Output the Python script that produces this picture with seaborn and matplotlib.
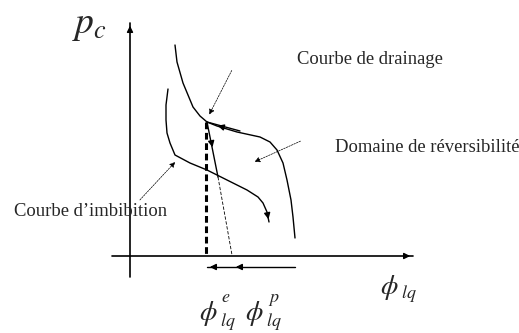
import numpy as np
import pandas as pd
import matplotlib
matplotlib.use("Agg")
import matplotlib.pyplot as plt
import seaborn as sns

# schematic coordinates (pixel space of the picture, y downwards)
drain_x = [175, 177, 183, 193, 200, 207, 217, 237, 260, 270, 277, 283, 287, 291, 293, 295]
drain_y = [45, 62, 83, 107, 116, 122, 126, 132, 137, 142, 150, 163, 180, 200, 217, 238]

imb_x = [168, 166, 166, 167, 170, 175, 190, 207, 225, 247, 258, 263, 267, 269]
imb_y = [89, 105, 120, 133, 143, 155, 163, 170, 179, 190, 197, 203, 212, 222]

rev_x = [207, 218]          # solid unloading line
rev_y = [122, 177]
rev_dash_x = [218, 232]     # its thin dashed extension
rev_dash_y = [177, 255]

elastic_x = [206, 206]      # thick dashed vertical
elastic_y = [122, 255]

load_x = [207, 240]         # straight segment over drainage curve
load_y = [122, 131]

bottom_x = [295, 207]
bottom_y = [267, 267]

yaxis_x = [130, 130]
yaxis_y = [277, 23]
xaxis_x = [112, 413]
xaxis_y = [256, 256]

# dotted label pointers: (start x, start y, end x, end y)
pointers = {
    "drainage": (233, 68, 208, 117),
    "reversibilite": (303, 140, 252, 163),
    "imbibition": (138, 202, 177, 160),
}

labels = {
    "Courbe de drainage": (297, 60),
    "Domaine de réversibilité": (335, 148),
    "Courbe d’imbibition": (14, 212),
}

# phi symbols: (x, y) of phi, superscript, subscript
phi_pos = [(380, 288), (199, 314), (245, 314)]
sup_txt = ["", "e", "p"]
sup_pos = [None, (221, 298), (268, 300)]
sub_pos = [(401, 294), (220, 321), (266, 321)]

sns.set_theme(style="white")
plt.rcParams["font.family"] = ["Liberation Serif", "DejaVu Serif"]
plt.rcParams["mathtext.fontset"] = "stix"

fig = plt.figure(figsize=(5.19, 3.33), dpi=100)
ax = fig.add_axes([0, 0, 1, 1])

def curve(x, y, **kw):
    d = pd.DataFrame({"x": x, "y": y})
    sns.lineplot(data=d, x="x", y="y", sort=False, estimator=None, ax=ax, **kw)

curve(drain_x, drain_y, color="black", lw=1.0)
curve(imb_x, imb_y, color="black", lw=1.0)
curve(rev_x, rev_y, color="black", lw=1.0)
curve(rev_dash_x, rev_dash_y, color="black", lw=0.6, dashes=(4, 2))
curve(elastic_x, elastic_y, color="black", lw=2.2, dashes=(2.2, 1.2))
curve(load_x, load_y, color="black", lw=1.0)
curve(bottom_x, bottom_y, color="black", lw=1.0)
curve(yaxis_x, yaxis_y, color="black", lw=1.2)
curve(xaxis_x, xaxis_y, color="black", lw=1.2)

head = dict(arrowstyle="-|>", color="black", lw=1.0, mutation_scale=9)

# axis arrowheads
ax.annotate("", xy=(yaxis_x[1], yaxis_y[1]), xytext=(yaxis_x[1], yaxis_y[1] + 12), arrowprops=head)
ax.annotate("", xy=(xaxis_x[1], xaxis_y[1]), xytext=(xaxis_x[1] - 12, xaxis_y[1]), arrowprops=head)
# end of imbibition
ax.annotate("", xy=(imb_x[-1], imb_y[-1]), xytext=(imb_x[-2], imb_y[-2]), arrowprops=head)
# direction marks on the unloading / reloading paths
ax.annotate("", xy=(213, 150), xytext=(211, 140), arrowprops=head)
ax.annotate("", xy=(215, 125), xytext=(226, 128), arrowprops=head)
ax.annotate("", xy=(bottom_x[1], bottom_y[1]), xytext=(bottom_x[1] + 10, bottom_y[1]), arrowprops=head)
ax.annotate("", xy=(233, 267), xytext=(243, 267), arrowprops=head)

for x0, y0, x1, y1 in pointers.values():
    ax.annotate("", xy=(x1, y1), xytext=(x0, y0),
                arrowprops=dict(arrowstyle="-|>", color="black", lw=0.5,
                                linestyle=(0, (2.5, 1.5)), mutation_scale=8))

for txt, (x, y) in labels.items():
    ax.text(x, y, txt, fontsize=13.4, va="center", ha="left")

ax.text(72, 26, "$p_c$", fontsize=27, va="center", ha="left")

for (px, py), s, sp, (bx, by) in zip(phi_pos, sup_txt, sup_pos, sub_pos):
    ax.text(px, py, r"$\phi$", fontsize=20, va="center", ha="left")
    ax.text(bx, by, "$lq$", fontsize=13, va="center", ha="left")
    if sp is not None:
        ax.text(sp[0], sp[1], f"${s}$", fontsize=13, va="center", ha="left")

ax.set_xlim(0, 519)
ax.set_ylim(333, 0)
ax.axis("off")
fig.savefig("out.png", dpi=100)
